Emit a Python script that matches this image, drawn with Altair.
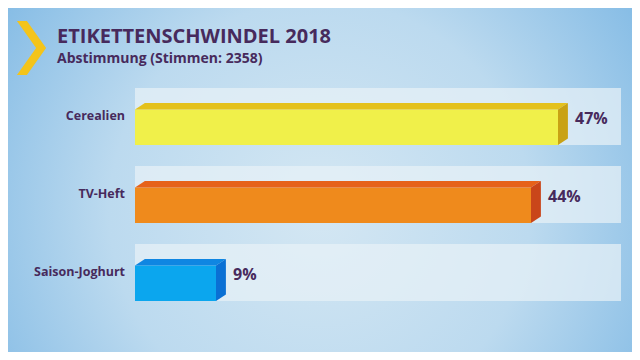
import altair as alt
import pandas as pd

# ---- data ----
categories = ["Cerealien", "TV-Heft", "Saison-Joghurt"]
values = [47, 44, 9]
front_colors = ["#f0f04a", "#ef8a1c", "#0ba6ee"]
top_colors = ["#e4c11c", "#e6621a", "#0f86e2"]
side_colors = ["#c9a214", "#c9461a", "#0a70d4"]
title_text = "ETIKETTENSCHWINDEL 2018"
subtitle_text = "Abstimmung (Stimmen: 2358)"

# ---- layout constants (styles) ----
W, H = 624, 344
X_MAX = 54
DEPTH_X = 1.1      # in % units
DEPTH_Y = 0.083    # in row units
PANEL_HALF = 0.365
FRONT_TOP = -0.09
TEXT_COL = "#472a5c"
FONT = "Open Sans"

xs = alt.Scale(domain=[0, X_MAX], range=[127, 613])
ys = alt.Scale(domain=[0, 2], range=[108.5, 264.5])

rows = pd.DataFrame({
    "cat": categories,
    "row": list(range(len(categories))),
    "val": values,
    "front": front_colors,
    "top": top_colors,
    "side": side_colors,
})
rows["label"] = [f"{v}%" for v in values]
rows["p0"] = rows["row"] - PANEL_HALF
rows["p1"] = rows["row"] + PANEL_HALF
rows["f0"] = rows["row"] + FRONT_TOP
rows["f1"] = rows["row"] + PANEL_HALF
rows["zero"] = 0
rows["xmax"] = X_MAX

top_pts = []
side_pts = []
for r in rows.itertuples():
    ft = r.f0
    tt = r.f0 - DEPTH_Y
    top_pts += [
        dict(cat=r.cat, col=r.top, px=0, py=ft, py2=ft),
        dict(cat=r.cat, col=r.top, px=DEPTH_X, py=tt, py2=ft),
        dict(cat=r.cat, col=r.top, px=r.val, py=tt, py2=ft),
        dict(cat=r.cat, col=r.top, px=r.val + DEPTH_X, py=tt, py2=tt),
    ]
    side_pts += [
        dict(cat=r.cat, col=r.side, px=r.val, py=ft, py2=r.f1),
        dict(cat=r.cat, col=r.side, px=r.val + DEPTH_X, py=tt, py2=r.f1 - DEPTH_Y),
    ]
top_df = pd.DataFrame(top_pts)
side_df = pd.DataFrame(side_pts)

one = pd.DataFrame({"a": [0]})

background = alt.Chart(one).mark_rect(
    color={
        "gradient": "radial",
        "x1": 0.5, "y1": 0.55, "r1": 0.0,
        "x2": 0.5, "y2": 0.55, "r2": 0.75,
        "stops": [
            {"offset": 0.0, "color": "#d4e7f3"},
            {"offset": 0.45, "color": "#bcdaef"},
            {"offset": 1.0, "color": "#68ace0"},
        ],
    }
).encode(x=alt.value(0), x2=alt.value(W), y=alt.value(0), y2=alt.value(H))

panels = alt.Chart(rows).mark_rect(color="#e8f1f7", opacity=0.72).encode(
    x=alt.X("zero:Q", scale=xs, axis=None),
    x2="xmax:Q",
    y=alt.Y("p0:Q", scale=ys, axis=None),
    y2="p1:Q",
)

front = alt.Chart(rows).mark_rect().encode(
    x=alt.X("zero:Q", scale=xs, axis=None),
    x2="val:Q",
    y=alt.Y("f0:Q", scale=ys, axis=None),
    y2="f1:Q",
    color=alt.Color("front:N", scale=None),
)


def face(df):
    return alt.Chart(df).mark_area(orient="vertical").encode(
        x=alt.X("px:Q", scale=xs, axis=None),
        y=alt.Y("py:Q", scale=ys, axis=None, stack=None),
        y2="py2:Q",
        detail="cat:N",
        color=alt.Color("col:N", scale=None),
    )


topface = face(top_df)
sideface = face(side_df)

cat_labels = alt.Chart(rows).mark_text(
    align="right", baseline="middle", dx=-10, dy=-1,
    font=FONT, fontWeight="bold", fontSize=12.5, color=TEXT_COL,
).encode(
    x=alt.X("zero:Q", scale=xs, axis=None),
    y=alt.Y("row:Q", scale=ys, axis=None),
    text="cat:N",
)

val_labels = alt.Chart(rows).mark_text(
    align="left", baseline="middle", dx=17, dy=2,
    font=FONT, fontWeight="bold", fontSize=16, color=TEXT_COL,
).encode(
    x=alt.X("val:Q", scale=xs, axis=None),
    y=alt.Y("row:Q", scale=ys, axis=None),
    text="label:N",
)

title = alt.Chart(one).mark_text(
    text=title_text, align="left", baseline="alphabetic",
    font=FONT, fontWeight="bold", fontSize=20, color=TEXT_COL,
).encode(x=alt.value(49), y=alt.value(35))

subtitle = alt.Chart(one).mark_text(
    text=subtitle_text, align="left", baseline="alphabetic",
    font=FONT, fontWeight="bold", fontSize=14, color=TEXT_COL,
).encode(x=alt.value(49), y=alt.value(55))

chevron = alt.Chart(one).mark_point(
    shape="M-0.54,-1 L-0.17,-1 L0.54,0 L-0.17,1 L-0.54,1 L0.17,0 Z",
    filled=True, size=2916, color="#f4c41a", opacity=1, strokeWidth=0,
).encode(x=alt.value(23.5), y=alt.value(40))

chart = alt.layer(
    background, panels, front, topface, sideface,
    cat_labels, val_labels, title, subtitle, chevron,
).properties(
    width=W, height=H, padding=0, autosize=alt.AutoSizeParams(type="none"),
).configure_view(stroke=None)

chart.save("out.html", embed_options={"renderer": "svg", "actions": False})
